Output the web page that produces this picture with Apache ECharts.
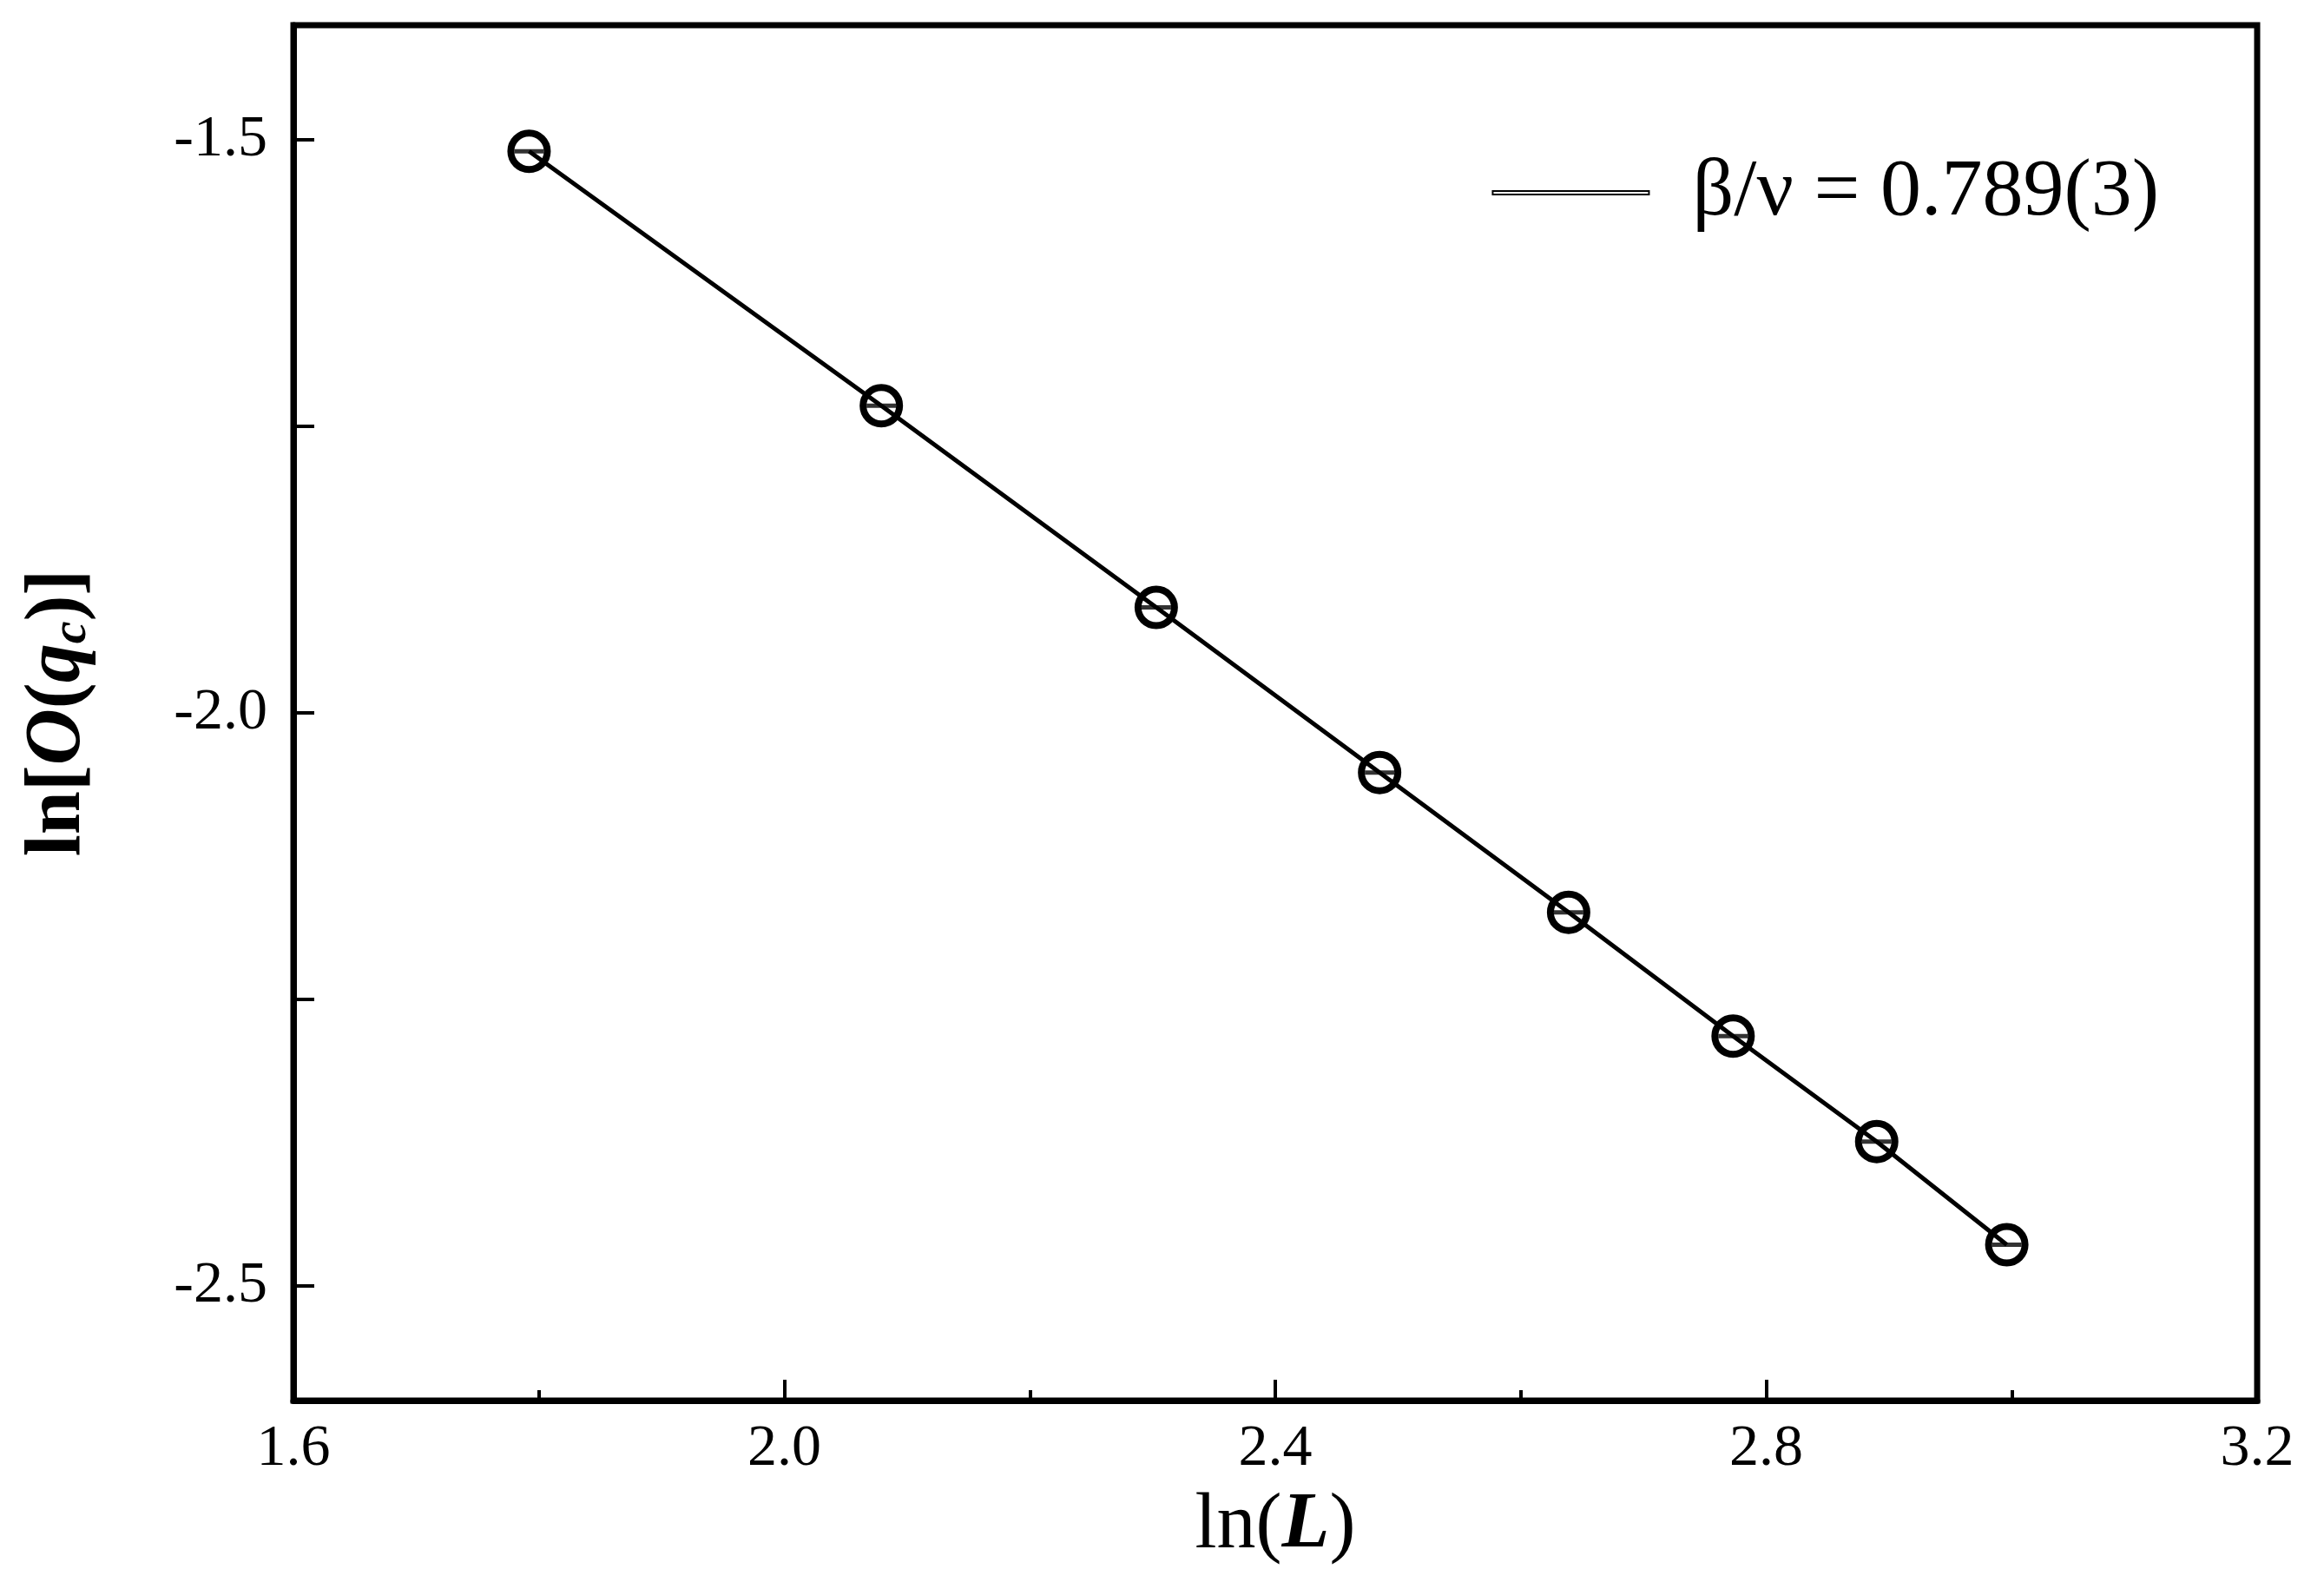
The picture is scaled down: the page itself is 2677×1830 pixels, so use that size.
<!DOCTYPE html>
<html>
<head>
<meta charset="utf-8">
<script src="https://cdn.jsdelivr.net/npm/echarts@6/dist/echarts.min.js"></script>
<style>html,body{margin:0;background:#fff}#main{width:2677px;height:1830px}</style>
</head>
<body>
<div id="main"></div>
<script>
// ln(L) for L = 6..20 and ln[O(q_c)]
const lnL = [1.792, 2.079, 2.303, 2.485, 2.639, 2.773, 2.890, 2.996];
const lnO = [-1.510, -1.732, -1.908, -2.052, -2.174, -2.282, -2.374, -2.464];
const yLabels = [-2.5, -2.0, -1.5];
const yTicks = [-2.5, -2.25, -2.0, -1.75, -1.5];
const legendLabel = 'β/ν = 0.789(3)';

const font = 'Liberation Serif';
const axisLine = {show: true, onZero: false, lineStyle: {color: '#000', width: 7}};
const tickStyle = {color: '#000', width: 4};

echarts.init(document.getElementById('main')).setOption({
  animation: false,
  grid: {left: 338, right: 77, top: 29, bottom: 217, show: true, borderColor: '#000', borderWidth: 7},
  legend: {
    data: [legendLabel], right: 185, top: 170, icon: 'rect', itemWidth: 180, itemHeight: 4,
    textStyle: {fontFamily: font, fontSize: 94, color: '#000', padding: [0, 0, 0, 45]}
  },
  xAxis: {
    type: 'value', min: 1.6, max: 3.2, interval: 0.4,
    name: '{n|ln(}{b|L}{n|)}', nameLocation: 'middle', nameGap: 100,
    nameTextStyle: {rich: {
      n: {fontFamily: font, fontSize: 90, color: '#000'},
      b: {fontFamily: font, fontSize: 90, fontWeight: 'bold', fontStyle: 'italic', color: '#000'}
    }},
    axisLine: axisLine,
    axisTick: {inside: true, length: 24, lineStyle: tickStyle},
    minorTick: {show: true, splitNumber: 2, length: 12, lineStyle: tickStyle},
    splitLine: {show: false},
    axisLabel: {color: '#000', fontFamily: font, fontSize: 68, margin: 22,
      formatter: v => v.toFixed(1)}
  },
  yAxis: {
    type: 'value', min: -2.6, max: -1.4,
    name: '{n|ln[}{b|O}{n|(}{b|q}{s|c}{n|)]}', nameLocation: 'middle', nameGap: 225, nameRotate: 90,
    nameTextStyle: {rich: {
      n: {fontFamily: font, fontSize: 90, fontWeight: 'bold', color: '#000'},
      b: {fontFamily: font, fontSize: 90, fontWeight: 'bold', fontStyle: 'italic', color: '#000'},
      s: {fontFamily: font, fontSize: 58, fontWeight: 'bold', fontStyle: 'italic', color: '#000', padding: [30, 0, 0, 0]}
    }},
    axisLine: axisLine,
    axisTick: {inside: true, length: 24, lineStyle: tickStyle, customValues: yTicks},
    splitLine: {show: false},
    axisLabel: {color: '#000', fontFamily: font, fontSize: 68, margin: 30,
      customValues: yLabels, formatter: v => v.toFixed(1)}
  },
  series: [{
    name: legendLabel, type: 'line',
    data: lnL.map((x, i) => [x, lnO[i]]),
    symbol: 'circle', symbolSize: 42,
    lineStyle: {color: '#000', width: 5},
    itemStyle: {color: 'rgba(255,255,255,0)', borderColor: '#000', borderWidth: 8},
    z: 3
  }, {
    type: 'scatter', silent: true,
    data: lnL.map((x, i) => [x, lnO[i]]),
    symbol: 'rect', symbolSize: [34, 5],
    itemStyle: {color: '#000'}, z: 4
  }]
});
</script>
</body>
</html>
